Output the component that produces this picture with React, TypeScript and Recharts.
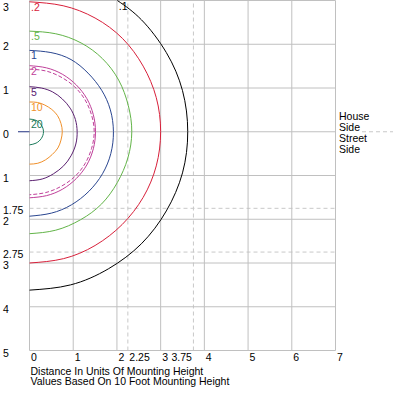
import React from 'react';
import { ScatterChart, Scatter, XAxis, YAxis, ReferenceLine } from 'recharts';

// Axis ticks (distance in units of mounting height)
const X_TICKS = [0, 1, 2, 2.25, 3, 3.75, 4, 5, 6, 7];
const Y_TICKS = [3, 2, 1, 0, -1, -1.75, -2, -2.75, -3, -4, -5];
const X_GRID = [0, 1, 2, 3, 4, 5, 6, 7];
const X_DASH = [2.25, 3.75];
const Y_GRID = [3, 2, 1, 0, -1, -2, -3, -4, -5];
const Y_DASH = [-1.75, -2.75];

// Isofootcandle contours
const c01 = [
  { x: 2.01, y: 3.0 }, { x: 2.56, y: 2.56 }, { x: 3.13, y: 1.81 }, { x: 3.5, y: 0.94 },
  { x: 3.62, y: 0 }, { x: 3.5, y: -0.94 }, { x: 3.13, y: -1.81 }, { x: 2.56, y: -2.56 },
  { x: 1.81, y: -3.13 }, { x: 0.94, y: -3.5 }, { x: 0, y: -3.62 },
];
const c02 = [
  { x: 0, y: 2.97 }, { x: 0.77, y: 2.88 }, { x: 1.5, y: 2.6 }, { x: 2.13, y: 2.13 },
  { x: 2.6, y: 1.5 }, { x: 2.9, y: 0.78 }, { x: 3.0, y: 0 }, { x: 2.9, y: -0.78 },
  { x: 2.6, y: -1.5 }, { x: 2.12, y: -2.12 }, { x: 1.5, y: -2.6 }, { x: 0.78, y: -2.9 },
  { x: 0, y: -3.0 },
];
const c05 = [
  { x: 0, y: 2.3 }, { x: 0.6, y: 2.24 }, { x: 1.18, y: 2.03 }, { x: 1.67, y: 1.67 },
  { x: 2.04, y: 1.18 }, { x: 2.26, y: 0.6 }, { x: 2.34, y: 0 }, { x: 2.25, y: -0.6 },
  { x: 2.01, y: -1.16 }, { x: 1.65, y: -1.65 }, { x: 1.17, y: -2.01 }, { x: 0.6, y: -2.25 },
  { x: 0, y: -2.33 },
];
const c1 = [
  { x: 0, y: 1.86 }, { x: 0.49, y: 1.81 }, { x: 0.95, y: 1.65 }, { x: 1.34, y: 1.34 },
  { x: 1.65, y: 0.95 }, { x: 1.85, y: 0.5 }, { x: 1.92, y: 0 }, { x: 1.86, y: -0.5 },
  { x: 1.67, y: -0.96 }, { x: 1.36, y: -1.36 }, { x: 0.96, y: -1.67 }, { x: 0.5, y: -1.86 },
  { x: 0, y: -1.93 },
];
const c2 = [
  { x: 0, y: 1.51 }, { x: 0.39, y: 1.46 }, { x: 0.76, y: 1.31 }, { x: 1.07, y: 1.07 },
  { x: 1.31, y: 0.76 }, { x: 1.46, y: 0.39 }, { x: 1.51, y: 0 }, { x: 1.46, y: -0.39 },
  { x: 1.31, y: -0.76 }, { x: 1.07, y: -1.07 }, { x: 0.76, y: -1.31 }, { x: 0.39, y: -1.46 },
  { x: 0, y: -1.51 },
];
const c2b = [
  { x: 0, y: 1.43 }, { x: 0.37, y: 1.39 }, { x: 0.72, y: 1.25 }, { x: 1.03, y: 1.03 },
  { x: 1.27, y: 0.73 }, { x: 1.42, y: 0.38 }, { x: 1.48, y: 0 }, { x: 1.42, y: -0.38 },
  { x: 1.27, y: -0.73 }, { x: 1.03, y: -1.03 }, { x: 0.72, y: -1.25 }, { x: 0.37, y: -1.39 },
  { x: 0, y: -1.44 },
];
const c5 = [
  { x: 0, y: 1.03 }, { x: 0.27, y: 1.0 }, { x: 0.53, y: 0.91 }, { x: 0.75, y: 0.75 },
  { x: 0.93, y: 0.54 }, { x: 1.05, y: 0.28 }, { x: 1.09, y: 0 }, { x: 1.06, y: -0.28 },
  { x: 0.95, y: -0.55 }, { x: 0.78, y: -0.78 }, { x: 0.55, y: -0.96 }, { x: 0.29, y: -1.08 },
  { x: 0, y: -1.12 },
];
const c10 = [
  { x: 0, y: 0.68 }, { x: 0.18, y: 0.67 }, { x: 0.35, y: 0.61 }, { x: 0.51, y: 0.51 },
  { x: 0.64, y: 0.37 }, { x: 0.72, y: 0.19 }, { x: 0.75, y: 0 }, { x: 0.72, y: -0.19 },
  { x: 0.65, y: -0.37 }, { x: 0.52, y: -0.52 }, { x: 0.37, y: -0.64 }, { x: 0.19, y: -0.72 },
  { x: 0, y: -0.74 },
];
const c20 = [
  { x: 0, y: 0.29 }, { x: 0.15, y: 0.26 }, { x: 0.27, y: 0.155 }, { x: 0.32, y: 0 },
  { x: 0.27, y: -0.155 }, { x: 0.15, y: -0.26 }, { x: 0, y: -0.3 },
];

const CONTOURS = [
  { name: '.1', data: c01, color: '#000000', dash: '' },
  { name: '.2', data: c02, color: '#d8203a', dash: '' },
  { name: '.5', data: c05, color: '#62b448', dash: '' },
  { name: '1', data: c1, color: '#2a4690', dash: '' },
  { name: '2', data: c2, color: '#c0409a', dash: '' },
  { name: '2b', data: c2b, color: '#c0409a', dash: '4 2' },
  { name: '5', data: c5, color: '#5a2070', dash: '' },
  { name: '10', data: c10, color: '#f0902a', dash: '' },
  { name: '20', data: c20, color: '#1a7a5a', dash: '' },
];

const CONTOUR_LABELS = [
  { x: 2.01, y: 3.0, text: '.1', color: '#000000' },
  { x: 0, y: 2.97, text: '.2', color: '#d8203a' },
  { x: 0, y: 2.3, text: '.5', color: '#62b448' },
  { x: 0, y: 1.86, text: '1', color: '#2a4690' },
  { x: 0, y: 1.51, text: '2', color: '#c0409a' },
  { x: 0, y: 1.03, text: '5', color: '#5a2070' },
  { x: 0, y: 0.68, text: '10', color: '#f0902a' },
  { x: 0, y: 0.29, text: '20', color: '#1a7a5a' },
];

const FONT = '"Liberation Sans", Arial, sans-serif';
const FS = 10.5;
const GRID = '#c0c0c0';
const DASHGRID = '#c8c8c8';

const XTick = (props: any) => {
  const { x, y, payload } = props;
  const end = payload.value === 3.75;
  return (
    <text x={end ? x - 1.5 : x + 1.5} y={y + 10.5} textAnchor={end ? 'end' : 'start'}
      fontFamily={FONT} fontSize={FS} fill="#000">
      {String(payload.value)}
    </text>
  );
};

const YTick = (props: any) => {
  const { x, y, payload } = props;
  const v = payload.value;
  const by = v === 3 ? y + 10 : y + 6;
  return (
    <text x={x - 26.5} y={by} textAnchor="start" fontFamily={FONT} fontSize={FS} fill="#000">
      {String(Math.abs(v))}
    </text>
  );
};

const ZeroLabel = (props: any) => {
  const vb = props.viewBox || {};
  const right = vb.x + vb.width;
  const y = vb.y;
  return (
    <g>
      <line x1={vb.x - 11.5} x2={vb.x} y1={y} y2={y} stroke="#203080" strokeWidth={1} />
      <line x1={right + 26.5} x2={393} y1={y} y2={y} stroke={DASHGRID} strokeDasharray="4 3" />
      <text fontFamily={FONT} fontSize={FS} fill="#000">
        <tspan x={right + 3.5} y={y - 12}>House</tspan>
        <tspan x={right + 3.5} y={y - 0.8}>Side</tspan>
        <tspan x={right + 3.5} y={y + 10.4}>Street</tspan>
        <tspan x={right + 3.5} y={y + 21.6}>Side</tspan>
      </text>
    </g>
  );
};

const AxisCaption = (props: any) => {
  const vb = props.viewBox || {};
  return (
    <text fontFamily={FONT} fontSize={FS} fill="#000">
      <tspan x={vb.x + 1} y={vb.y + 24}>Distance In Units Of Mounting Height</tspan>
      <tspan x={vb.x + 1} y={vb.y + 34.7}>Values Based On 10 Foot Mounting Height</tspan>
    </text>
  );
};

const LabelShape = (p: any) => (
  <text x={p.cx + 1.5} y={p.cy + 9} fontFamily={FONT} fontSize={FS} fill={p.payload.color}>
    {p.payload.text}
  </text>
);

export default function App() {
  return (
    <div style={{ position: 'absolute', left: 0, top: 0, width: 393, height: 393, background: '#fff' }}>
      <ScatterChart width={393} height={393} margin={{ top: 0.5, right: 57.5, bottom: 0, left: 0.5 }}>
        <XAxis type="number" dataKey="x" domain={[0, 7]} ticks={X_TICKS} interval={0}
          axisLine={false} tickLine={false} tickSize={0} tickMargin={0} height={42.5}
          tick={<XTick />} label={{ content: <AxisCaption /> } as any} />
        <YAxis type="number" dataKey="y" domain={[-5, 3]} ticks={Y_TICKS} interval={0}
          axisLine={false} tickLine={false} tickSize={0} tickMargin={0} width={29}
          tick={<YTick />} />
        {X_DASH.map((v) => (
          <ReferenceLine key={'xd' + v} x={v} stroke={DASHGRID} strokeDasharray="4 3" />
        ))}
        {Y_DASH.map((v) => (
          <ReferenceLine key={'yd' + v} y={v} stroke={DASHGRID} strokeDasharray="4 3" />
        ))}
        {X_GRID.map((v) => (
          <ReferenceLine key={'xg' + v} x={v} stroke={GRID} />
        ))}
        {Y_GRID.map((v) => (
          <ReferenceLine key={'yg' + v} y={v} stroke={GRID}
            label={v === 0 ? ({ content: <ZeroLabel /> } as any) : undefined} />
        ))}
        {CONTOURS.map((c) => (
          <Scatter key={c.name} data={c.data} isAnimationActive={false}
            line={{ stroke: c.color, strokeWidth: 1, strokeDasharray: c.dash || undefined } as any}
            lineJointType="natural" shape={() => <g />} />
        ))}
        <Scatter data={CONTOUR_LABELS} isAnimationActive={false} shape={<LabelShape />} />
      </ScatterChart>
    </div>
  );
}
